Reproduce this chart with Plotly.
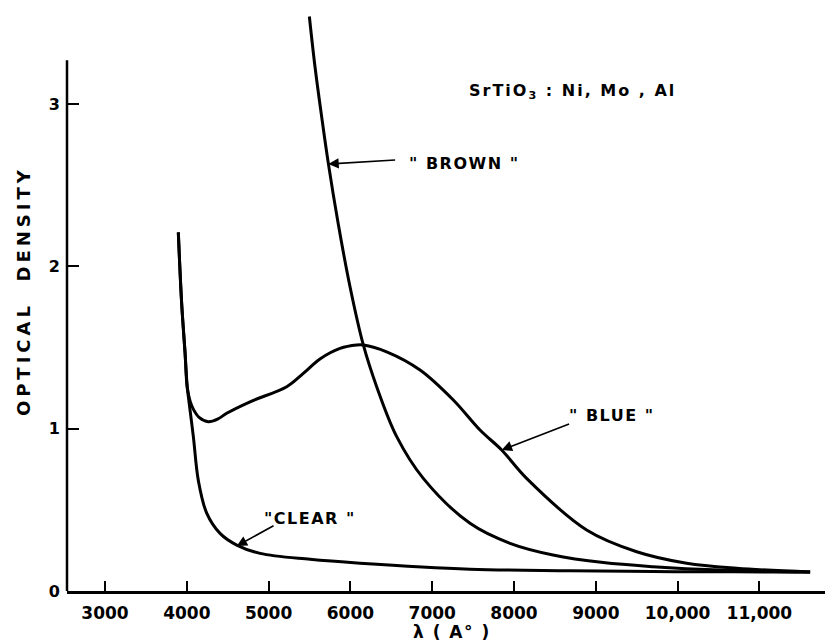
import plotly.graph_objects as go

# ---- data ----
clear_x = [3896, 3937, 3978, 3999, 4018, 4080, 4141, 4243, 4406, 4610, 4895, 5506, 6117, 7462, 8685, 9700, 10700, 11620]
clear_y = [2.21, 1.77, 1.47, 1.28, 1.20, 0.95, 0.68, 0.48, 0.355, 0.283, 0.232, 0.195, 0.171, 0.134, 0.125, 0.120, 0.118, 0.117]

blue_x = [3896, 3937, 3978, 4010, 4040, 4080, 4150, 4263, 4380, 4487, 4773, 5221, 5424, 5628, 5873, 6076, 6158,
          6443, 6851, 7258, 7584, 7849, 8154, 8888, 9500, 10111, 10722, 11620]
blue_y = [2.21, 1.77, 1.47, 1.24, 1.17, 1.12, 1.07, 1.043, 1.06, 1.095, 1.166, 1.259, 1.341, 1.43, 1.495, 1.516, 1.516,
          1.474, 1.362, 1.177, 0.992, 0.869, 0.694, 0.376, 0.242, 0.171, 0.140, 0.117]

brown_x = [5498, 5567, 5649, 5730, 5852, 5995, 6158, 6321, 6566, 6891, 7462, 7951, 8477, 9092, 9699, 10518, 11620]
brown_y = [3.54, 3.23, 2.92, 2.635, 2.26, 1.875, 1.516, 1.259, 0.951, 0.694, 0.417, 0.294, 0.222, 0.175, 0.150, 0.129, 0.117]

x_tickvals = [3000, 4000, 5000, 6000, 7000, 8000, 9000, 10000, 11000]
x_ticktext = ["3000", "4000", "5000", "6000", "7000", "8000", "9000", "10,000", "11,000"]
y_tickvals = [0, 1, 2, 3]
y_ticktext = ["0", "1", "2", "3"]

FONT = "DejaVu Sans"


def sp(t, ls=2):
    return f'<span style="letter-spacing:{ls}px">{t}</span>'


fig = go.Figure()
for xs, ys in [(clear_x, clear_y), (blue_x, blue_y), (brown_x, brown_y)]:
    fig.add_trace(go.Scatter(x=xs, y=ys, mode="lines",
                             line=dict(color="black", width=3, shape="spline", smoothing=1.0),
                             showlegend=False, hoverinfo="skip", cliponaxis=False))

# the page body adds an 8px offset; margins compensate for it
fig.update_layout(
    width=833, height=644,
    margin=dict(l=59, r=8, t=2, b=61, autoexpand=False),
    paper_bgcolor="white", plot_bgcolor="white",
    font=dict(family=FONT, color="black", size=15),
    xaxis=dict(range=[2535, 11900], showgrid=False, zeroline=False, automargin=False,
               showline=True, linecolor="black", linewidth=2.5,
               ticks="inside", ticklen=10, tickwidth=2, tickcolor="black",
               tickvals=x_tickvals, ticktext=x_ticktext,
               tickangle=0,
               tickfont=dict(family=FONT, size=17, color="black", weight="bold"),
               ticklabelstandoff=5),
    yaxis=dict(range=[0, 3.58], showgrid=False, zeroline=False, showline=False, automargin=False,
               ticks="inside", ticklen=12, tickwidth=2, tickcolor="black",
               tickvals=y_tickvals, ticktext=y_ticktext,
               tickfont=dict(family=FONT, size=16, color="black", weight="bold"),
               ticklabelstandoff=6),
)

# y axis line (stops below the top of the brown curve)
fig.add_shape(type="line", xref="paper", yref="y", x0=0, x1=0, y0=0, y1=3.27,
              line=dict(color="black", width=2.5))

ann_font = dict(family=FONT, size=16, color="black", weight="bold")

# arrows
for (tx, ty, ax, ay) in [(5730, 2.631, 6565, 2.656), (7849, 0.869, 8692, 1.033), (4610, 0.277, 5078, 0.407)]:
    fig.add_annotation(x=tx, y=ty, ax=ax, ay=ay, axref="x", ayref="y", xref="x", yref="y",
                       text="", showarrow=True, arrowhead=2, arrowsize=1.3, arrowwidth=1.6,
                       arrowcolor="black")

labels = [
    ('" BROWN "', 6692, 2.637),
    ('" BLUE "', 8648, 1.084),
    ('"CLEAR "', 4919, 0.444),
]
for t, x, y in labels:
    fig.add_annotation(x=x, y=y, xref="x", yref="y", text=sp(t, 1.5), showarrow=False,
                       xanchor="left", yanchor="middle", font=ann_font)

fig.add_annotation(x=7425, y=3.075, xref="x", yref="y",
                   text=sp("SrTiO<sub>3</sub> : Ni, Mo , Al", 2), showarrow=False,
                   xanchor="left", yanchor="middle", font=ann_font)

fig.add_annotation(x=-0.0574, y=1.848, xref="paper", yref="y", text=sp("OPTICAL  DENSITY", 4),
                   textangle=-90, showarrow=False, xanchor="center", yanchor="middle",
                   font=dict(family=FONT, size=18, color="black", weight="bold"))

fig.add_annotation(x=7242, y=-0.071, xref="x", yref="paper", text=sp("λ ( A° )", 1.5),
                   showarrow=False, xanchor="center", yanchor="middle",
                   font=dict(family=FONT, size=17, color="black", weight="bold"))

fig.write_html("out.html")
